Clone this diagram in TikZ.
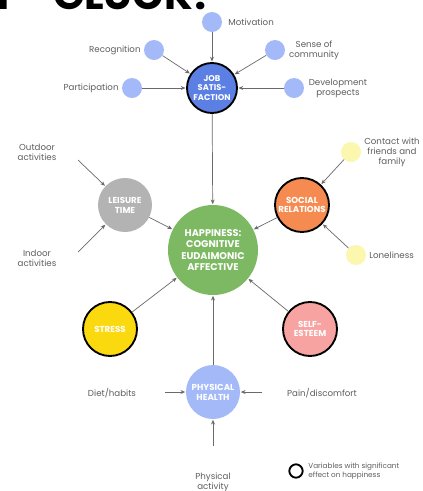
\documentclass[tikz,border=0pt]{standalone}
\usepackage{fontspec}
\setmainfont{Poppins}
\usetikzlibrary{arrows.meta}
\definecolor{jobblue}{HTML}{5B7FE3}
\definecolor{lightblue}{HTML}{A4B9F8}
\definecolor{happygreen}{HTML}{7DB862}
\definecolor{leisgray}{HTML}{B3B3B3}
\definecolor{socorange}{HTML}{F58B50}
\definecolor{stressyellow}{HTML}{FAD90E}
\definecolor{selfpink}{HTML}{F6A3A1}
\definecolor{paleyellow}{HTML}{FCF7AE}
\definecolor{labelgray}{HTML}{5E5E5E}
\definecolor{arrowgray}{HTML}{6A6A6A}

\begin{document}
\begin{tikzpicture}[x=0.03cm,y=-0.03cm,
  var/.style={circle,inner sep=0pt,align=center,text=white,
    font=\bfseries\fontsize{7.4}{8.4}\selectfont},
  signif/.style={draw=black,line width=1.6pt},
  dot/.style={circle,inner sep=0pt,minimum size=0.6cm},
  lbl/.style={text=labelgray,align=center,font=\fontsize{7.4}{8.6}\selectfont,inner sep=1pt},
  arr/.style={draw=arrowgray,line width=0.6pt,-{Stealth[length=4pt,width=3.4pt]},shorten >=0.5pt}]
\useasboundingbox (0,0) rectangle (423,491);
\clip (0,0) rectangle (423,491);
\fill[white] (0,0) rectangle (423,491);
% title, cut off at the top
\node[anchor=base east,inner sep=0pt,font=\bfseries\fontsize{35}{40}\selectfont] (title) at (215,9.5) {IST\hspace{32pt}GLÜCK?};
% job satisfaction
\node[var,signif,fill=jobblue,minimum size=1.5cm,font=\bfseries\fontsize{7.1}{8.1}\selectfont] (job) at (212,88) {JOB\\SATIS-\\FACTION};
\node[dot,fill=lightblue] (motiv) at (212,22) {};
\node[dot,fill=lightblue] (recog) at (154,50) {};
\node[dot,fill=lightblue] (sense) at (275,50) {};
\node[dot,fill=lightblue] (partic) at (132,88) {};
\node[dot,fill=lightblue] (devel) at (294,88) {};
\node[lbl,anchor=west] (motivl) at (227,22) {Motivation};
\node[lbl,anchor=east] (recogl) at (142,50) {Recognition};
\node[lbl] (sensel) at (314,50) {Sense of\\community};
\node[lbl,anchor=east] (particl) at (120,88) {Participation};
\node[lbl] (devell) at (338,88) {Development\\prospects};
\draw[arr] (motiv) -- (job);
\draw[arr] (recog) -- (job);
\draw[arr] (sense) -- (job);
\draw[arr] (partic) -- (job);
\draw[arr] (devel) -- (job);
% happiness
\node[var,fill=happygreen,minimum size=2.7cm,font=\bfseries\fontsize{8.3}{9.6}\selectfont] (happy) at (213,250)
  {HAPPINESS:\\COGNITIVE\\EUDAIMONIC\\AFFECTIVE};
\draw[arr] (job) -- (happy);
% leisure time
\node[var,fill=leisgray,minimum size=1.62cm] (leis) at (125,205) {LEISURE\\TIME};
\node[lbl] (outdoor) at (37,152) {Outdoor\\activities};
\node[lbl] (indoor) at (37,258) {Indoor\\activities};
\coordinate (outdoorend) at (78,160);
\coordinate (indoorend) at (78,252);
\draw[arr] (outdoorend) -- (leis);
\draw[arr] (indoorend) -- (leis);
\draw[arr] (leis) -- (happy);
% social relations
\node[var,signif,fill=socorange,minimum size=1.62cm] (social) at (302,205) {SOCIAL\\RELATIONS};
\node[dot,fill=paleyellow] (contact) at (351,152) {};
\node[dot,fill=paleyellow] (lonely) at (356,255) {};
\node[lbl] (contactl) at (392,152) {Contact with\\friends and\\family};
\node[lbl,anchor=west] (lonelyl) at (368,255) {Loneliness};
\draw[arr] (contact) -- (social);
\draw[arr] (lonely) -- (social);
\draw[arr] (social) -- (happy);
% stress and self-esteem
\node[var,signif,fill=stressyellow,minimum size=1.62cm] (stress) at (110,329) {STRESS};
\node[var,signif,fill=selfpink,minimum size=1.62cm] (selfest) at (310,329) {SELF-\\ESTEEM};
\draw[arr] (stress) -- (happy);
\draw[arr] (selfest) -- (happy);
% physical health
\node[var,fill=lightblue,minimum size=1.62cm] (phys) at (213,392) {PHYSICAL\\HEALTH};
\draw[arr] (phys) -- (happy);
\node[lbl] (diet) at (112,393) {Diet/habits};
\node[lbl] (pain) at (322,393) {Pain/discomfort};
\node[lbl] (activ) at (213,482) {Physical\\activity};
\coordinate (dietend) at (165,392);
\coordinate (painend) at (262,392);
\coordinate (activend) at (213,446);
\draw[arr] (dietend) -- (phys);
\draw[arr] (painend) -- (phys);
\draw[arr] (activend) -- (phys);
% legend
\node[circle,signif,minimum size=0.4cm,inner sep=0pt] (legring) at (296,471) {};
\node[lbl,anchor=west,align=left,font=\fontsize{6.2}{7.2}\selectfont] (legtext) at (307,471)
  {Variables with significant\\effect on happiness};
\end{tikzpicture}
\end{document}
